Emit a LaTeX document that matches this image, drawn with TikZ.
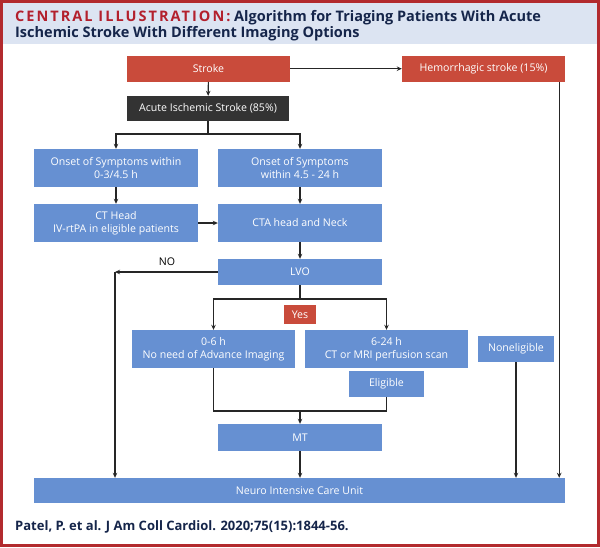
\documentclass[tikz,border=0pt]{standalone}
\usepackage{fontspec}
\setmainfont{Open Sans}
\usetikzlibrary{arrows.meta}
\definecolor{jaccblue}{HTML}{6690D2}
\definecolor{jaccred}{HTML}{C94B3B}
\definecolor{jaccdark}{HTML}{333333}
\definecolor{jaccband}{HTML}{DCE4F2}
\definecolor{jacctitle}{HTML}{B3202D}
\definecolor{jaccnavy}{HTML}{15254A}
\definecolor{jaccframe}{HTML}{B22A2E}
\tikzset{%
    bluebox/.style={%
        fill=jaccblue, text=white, inner sep=0pt, align=center,
        font=\fontsize{10.6}{12.5}\selectfont,
        minimum width=164pt, minimum height=38pt
    },
    redbox/.style={bluebox, fill=jaccred},
    darkbox/.style={bluebox, fill=jaccdark},
    titletext/.style={anchor=base west, inner sep=0pt, text=jaccnavy,
        font=\bfseries\fontsize{14.5}{16.5}\selectfont},
    arr/.style={-{Stealth[length=5pt,width=4.5pt]}, line width=1.1pt, draw=black!85},
    plain/.style={line width=1.1pt, draw=black!85}
}

\begin{document}
\begin{tikzpicture}[x=1pt,y=-1pt]
    \useasboundingbox (0,0) rectangle (600,547);
    \fill[white] (0,0) rectangle (600,547);
    \fill[jaccband] (3,3) rectangle (597,44);
    \draw[jaccframe, line width=3pt] (1.5,1.5) rectangle (598.5,545.5);
    \node[titletext] (titleA) at (15,21)
        {{\color{jacctitle}\addfontfeature{LetterSpace=14}CENTRAL ILLUSTRATION:} Algorithm for Triaging Patients With Acute};
    \node[titletext] (titleB) at (15,37.5) {Ischemic Stroke With Different Imaging Options};
    % top row
    \node[redbox, minimum width=163pt, minimum height=26pt] (stroke) at (208.5,68.7) {Stroke};
    \node[redbox, minimum width=163pt, minimum height=26pt] (hemo) at (483.5,68.7) {Hemorrhagic stroke (15\%)};
    \node[darkbox, minimum width=162pt, minimum height=25pt] (acute) at (208,108.5) {Acute Ischemic Stroke (85\%)};
    % time windows
    \node[bluebox] (onsetA) at (116,168) {Onset of Symptoms within\\0-3/4.5 h};
    \node[bluebox] (onsetB) at (300,168) {Onset of Symptoms\\within 4.5 - 24 h};
    \node[bluebox] (cthead) at (116,223) {CT Head\\IV-rtPA in eligible patients};
    \node[bluebox] (cta) at (300,223) {CTA head and Neck};
    \node[bluebox, minimum height=26pt] (lvo) at (300,272) {LVO};
    \node[redbox, minimum width=32pt, minimum height=19pt] (yes) at (300,314.5) {Yes};
    \node[font=\fontsize{10.6}{12.5}\selectfont] (no) at (167,262) {NO};
    % LVO branches
    \node[bluebox, minimum width=163pt] (early) at (213.5,349) {0-6 h\\No need of Advance Imaging};
    \node[bluebox, minimum width=163pt] (late) at (386.5,349) {6-24 h\\CT or MRI perfusion scan};
    \node[bluebox, minimum width=75pt, minimum height=26pt] (elig) at (386.5,384) {Eligible};
    \node[bluebox, minimum width=76pt, minimum height=26pt] (nonelig) at (516,349) {Noneligible};
    \node[bluebox, minimum height=27pt] (mt) at (300,437.5) {MT};
    \node[bluebox, minimum width=531pt, minimum height=25pt] (nicu) at (299.5,490.5) {Neuro Intensive Care Unit};
    \node[titletext, font=\bfseries\fontsize{13}{15}\selectfont] (cite) at (15,530.5)
        {Patel, P. et al. J Am Coll Cardiol. 2020;75(15):1844-56.};
    \coordinate (forkA) at (208,134);
    \coordinate (forkB) at (300,299);
    \coordinate (join) at (300,411);
    \coordinate (noturn) at (115,272);
    % connectors
    \draw[arr] (stroke) -- (hemo);
    \draw[arr] (stroke) -- (acute);
    \draw[plain] (acute.south) -- (forkA);
    \draw[arr] (forkA) -| (onsetA.north);
    \draw[arr] (forkA) -| (onsetB.north);
    \draw[arr] (onsetA) -- (cthead);
    \draw[arr] (onsetB) -- (cta);
    \draw[arr] (cthead) -- (cta);
    \draw[arr] (cta) -- (lvo);
    \draw[arr] (lvo.west) -- (noturn);
    \draw[arr] (noturn) -- (noturn |- nicu.north);
    \draw[plain] (lvo.south) -- (forkB);
    \draw[arr] (forkB) -| (early.north);
    \draw[arr] (forkB) -| (late.north);
    \draw[plain] (early.south) |- (join) -| (elig.south);
    \draw[arr] (join) -- (mt.north);
    \draw[arr] (mt) -- (mt |- nicu.north);
    \draw[arr] (nonelig.south) -- (nonelig |- nicu.north);
    \draw[arr] ([xshift=-6pt]hemo.south east) -- ([xshift=-6pt]hemo.south east |- nicu.north);
\end{tikzpicture}
\end{document}
